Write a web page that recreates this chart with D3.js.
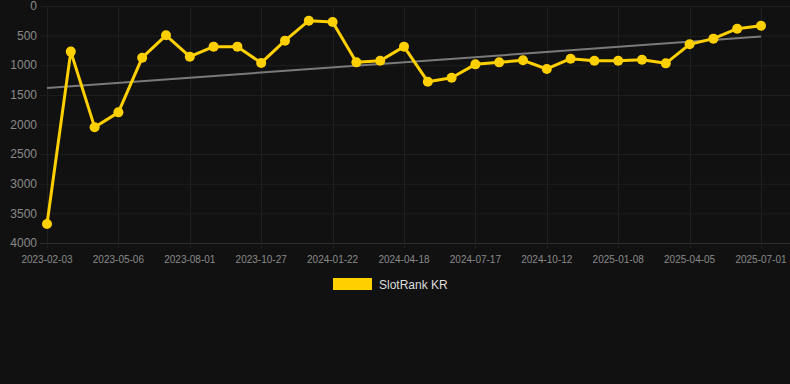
<!DOCTYPE html>
<html>
<head>
<meta charset="utf-8">
<script src="https://cdn.jsdelivr.net/npm/d3@7/dist/d3.min.js"></script>
<style>
html,body{margin:0;padding:0;background:#111111;}
svg{display:block;}
</style>
</head>
<body>
<svg id="chart" width="790" height="384"></svg>
<script>
const seriesName = "SlotRank KR";
const rankValues = [3680, 770, 2045, 1795, 872, 495, 855, 686, 686, 960,
  585, 248, 270, 951, 923, 686, 1277, 1210, 985, 951,
  917, 1063, 889, 923, 923, 906, 968, 647, 551, 383, 332];
const xTickLabels = ["2023-02-03","2023-05-06","2023-08-01","2023-10-27","2024-01-22",
  "2024-04-18","2024-07-17","2024-10-12","2025-01-08","2025-04-05","2025-07-01"];
const xTickEvery = 3;
const yTicks = [0, 500, 1000, 1500, 2000, 2500, 3000, 3500, 4000];

const svg = d3.select("#chart");
const plotLeft = 40, plotRight = 790, plotTop = 6, plotBottom = 243;

const idx = d3.range(rankValues.length);
const x = d3.scalePoint().domain(idx).range([47, 761]);
const y = d3.scaleLinear().domain([0, 4000]).range([plotTop, plotBottom]);

// horizontal grid
svg.append("g").selectAll("line").data(yTicks).join("line")
  .attr("x1", plotLeft).attr("x2", plotRight)
  .attr("y1", d => y(d) + 0.5).attr("y2", d => y(d) + 0.5)
  .attr("stroke", d => d === 4000 ? "#303030" : "#1f1f1f").attr("stroke-width", 1);

// vertical grid
const tickIdx = xTickLabels.map((_, i) => i * xTickEvery);
svg.append("g").selectAll("line").data(tickIdx).join("line")
  .attr("x1", d => Math.round(x(d)) + 0.5).attr("x2", d => Math.round(x(d)) + 0.5)
  .attr("y1", plotTop).attr("y2", plotBottom + 5)
  .attr("stroke", "#1f1f1f").attr("stroke-width", 1);

// y axis labels
svg.append("g").selectAll("text").data(yTicks).join("text")
  .attr("x", 37).attr("y", d => y(d)).attr("dy", "0.35em")
  .attr("text-anchor", "end")
  .attr("font-family", "Liberation Sans, Arial, sans-serif").attr("font-size", 12)
  .attr("fill", "#8a8a8a").text(d => d);

// x axis labels
svg.append("g").selectAll("text").data(xTickLabels).join("text")
  .attr("x", (d, i) => x(i * xTickEvery)).attr("y", 263)
  .attr("text-anchor", "middle")
  .attr("font-family", "Liberation Sans, Arial, sans-serif").attr("font-size", 10)
  .attr("fill", "#8a8a8a").text(d => d);

// trend line (least squares)
const n = rankValues.length;
const mx = d3.mean(idx), my = d3.mean(rankValues);
const slope = d3.sum(idx, i => (i - mx) * (rankValues[i] - my)) / d3.sum(idx, i => (i - mx) * (i - mx));
const intercept = my - slope * mx;
svg.append("line")
  .attr("x1", x(0)).attr("y1", y(intercept))
  .attr("x2", x(n - 1)).attr("y2", y(intercept + slope * (n - 1)))
  .attr("stroke", "#7a7a7a").attr("stroke-width", 2);

// series line
const color = "#FFD000";
const line = d3.line().x(i => x(i)).y(i => y(rankValues[i]));
svg.append("path").datum(idx).attr("d", line)
  .attr("fill", "none").attr("stroke", color).attr("stroke-width", 3)
  .attr("stroke-linejoin", "round");

svg.append("g").selectAll("circle").data(idx).join("circle")
  .attr("cx", i => x(i)).attr("cy", i => y(rankValues[i])).attr("r", 5)
  .attr("fill", color);

// legend
svg.append("rect").attr("x", 333).attr("y", 278).attr("width", 39).attr("height", 12)
  .attr("fill", color);
svg.append("text").attr("x", 379).attr("y", 289)
  .attr("font-family", "Liberation Sans, Arial, sans-serif").attr("font-size", 12)
  .attr("fill", "#dddddd").text(seriesName);
</script>
</body>
</html>
